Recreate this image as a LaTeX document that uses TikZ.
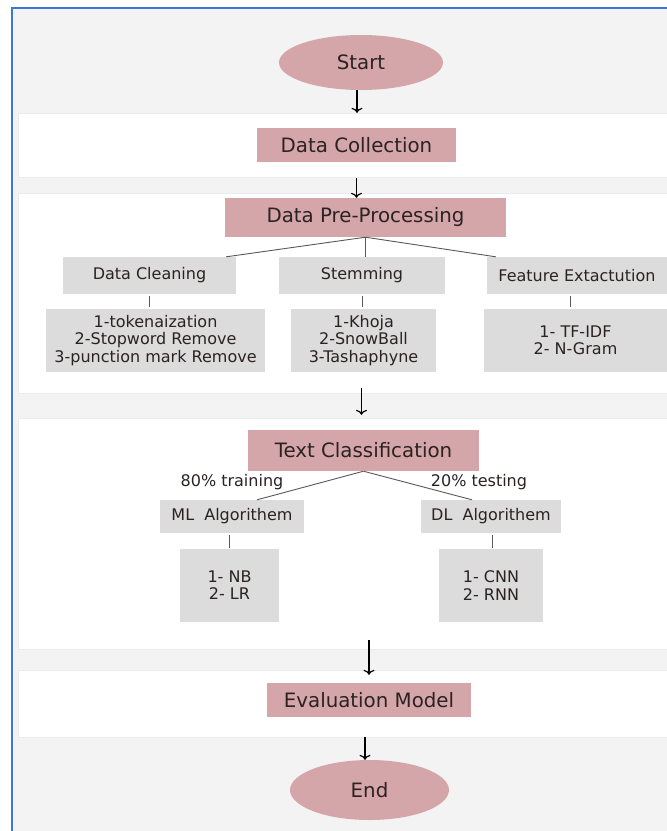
\documentclass[tikz,border=0pt]{standalone}
\usepackage{fontspec}
\setmainfont{DejaVu Sans}
\usetikzlibrary{shapes.geometric,arrows.meta}
\definecolor{rose}{HTML}{D5A6A9}
\definecolor{boxgray}{HTML}{DCDCDC}
\definecolor{paper}{HTML}{F3F3F3}
\definecolor{frameblue}{HTML}{3B78D6}
\definecolor{ink}{HTML}{2B2222}
\begin{document}
\begin{tikzpicture}[x=1pt,y=-1pt,
  big/.style={font=\fontsize{19.8}{22}\selectfont, text=ink},
  small/.style={font=\fontsize{16}{17.3}\selectfont, text=ink, align=center},
  oval/.style={ellipse, fill=rose, inner sep=0pt, big},
  stage/.style={rectangle, fill=rose, inner sep=0pt, big},
  part/.style={rectangle, fill=boxgray, inner sep=0pt, small},
  band/.style={fill=white, draw=black!8, line width=0.8pt},
  arr/.style={-{To[length=5pt,width=11pt]}, draw=black, line width=1.2pt},
  link/.style={draw=black!65, line width=0.9pt}]
\useasboundingbox (0,0) rectangle (667,831);
\fill[white] (0,0) rectangle (667,831);
\fill[paper] (12,8) rectangle (667,831);
\draw[frameblue, line width=2.5pt] (12,831) -- (12,8) -- (667,8);
\draw[band] (18,113) rectangle (668,177);
\draw[band] (18,193) rectangle (668,393);
\draw[band] (18,418) rectangle (668,649);
\draw[band] (18,670) rectangle (668,737);

\node[oval, minimum width=164, minimum height=55] (start) at (361,62.5) {Start};
\node[stage, minimum width=199, minimum height=34] (collect) at (356.5,145) {Data Collection};
\node[stage, minimum width=281, minimum height=39] (prep) at (365.5,217.5) {Data Pre-Processing};

\node[part, minimum width=173, minimum height=37] (clean) at (149.5,275.5) {Data Cleaning};
\node[part, minimum width=166, minimum height=37] (stem) at (362,275.5) {Stemming};
\node[part, minimum width=180, minimum height=37] (feat) at (577,275.5) {Feature Extactution};
\node[part, minimum width=219, minimum height=63] (cleandet) at (155.5,340.5) {1-tokenaization\\2-Stopword Remove\\3-punction mark Remove};
\node[part, minimum width=145, minimum height=63] (stemdet) at (363.5,340.5) {1-Khoja\\2-SnowBall\\3-Tashaphyne};
\node[part, minimum width=183, minimum height=63] (featdet) at (575.5,340.5) {1- TF-IDF\\2- N-Gram};

\node[stage, minimum width=231, minimum height=41] (classif) at (363.5,450.5) {Text Classification};
\node[small] (train) at (232,482) {80\% training};
\node[small] (test) at (479,482) {20\% testing};
\node[part, minimum width=144, minimum height=33] (ml) at (232,516.5) {ML\ \ Algorithem};
\node[part, minimum width=140, minimum height=33] (dl) at (491,516.5) {DL\ \ Algorithem};
\node[part, minimum width=99, minimum height=73] (mldet) at (229.5,585.5) {1- NB\\2- LR};
\node[part, minimum width=104, minimum height=73] (dldet) at (491,585.5) {1- CNN\\2- RNN};

\node[stage, minimum width=204, minimum height=34] (evalm) at (369,700) {Evaluation Model};
\node[oval, minimum width=159, minimum height=60] (endn) at (369.5,790) {End};
\coordinate (gap) at (369,640);

\draw[arr, shorten >=15pt] ([xshift=-4]start.south) -- ([xshift=-4]start.south |- collect.north);
\draw[arr, shorten <=16pt] (collect.south) -- (collect.south |- prep.north);
\draw[link] (prep.south) -- ([xshift=-10]clean.north east);
\draw[link] (prep.south) -- (prep.south |- stem.north);
\draw[link] (prep.south) -- ([xshift=9]feat.north west);
\draw[link, shorten <=2pt, shorten >=2pt] (clean.south) -- (clean.south |- cleandet.north);
\draw[link, shorten <=2pt, shorten >=2pt] (stem.south) -- (stem.south |- stemdet.north);
\draw[link, shorten <=2pt, shorten >=2pt] ([xshift=-7]feat.south) -- ([xshift=-7]feat.south |- featdet.north);
\draw[arr, shorten <=16pt, shorten >=15pt] ([xshift=-2]stemdet.south) -- ([xshift=-2]stemdet.south |- classif.north);
\draw[link] (classif.south) -- ([xshift=25]ml.north);
\draw[link] (classif.south) -- ([xshift=-19]dl.north);
\draw[link, shorten <=2pt, shorten >=1pt] ([xshift=-3]ml.south) -- ([xshift=-3]ml.south |- mldet.north);
\draw[link, shorten <=2pt, shorten >=1pt] ([xshift=1]dl.south) -- ([xshift=1]dl.south |- dldet.north);
\draw[arr, shorten >=8pt] (gap) -- (gap |- evalm.north);
\draw[arr, shorten <=20pt] ([xshift=-4]evalm.south) -- ([xshift=-4]evalm.south |- endn.north);
\end{tikzpicture}
\end{document}
